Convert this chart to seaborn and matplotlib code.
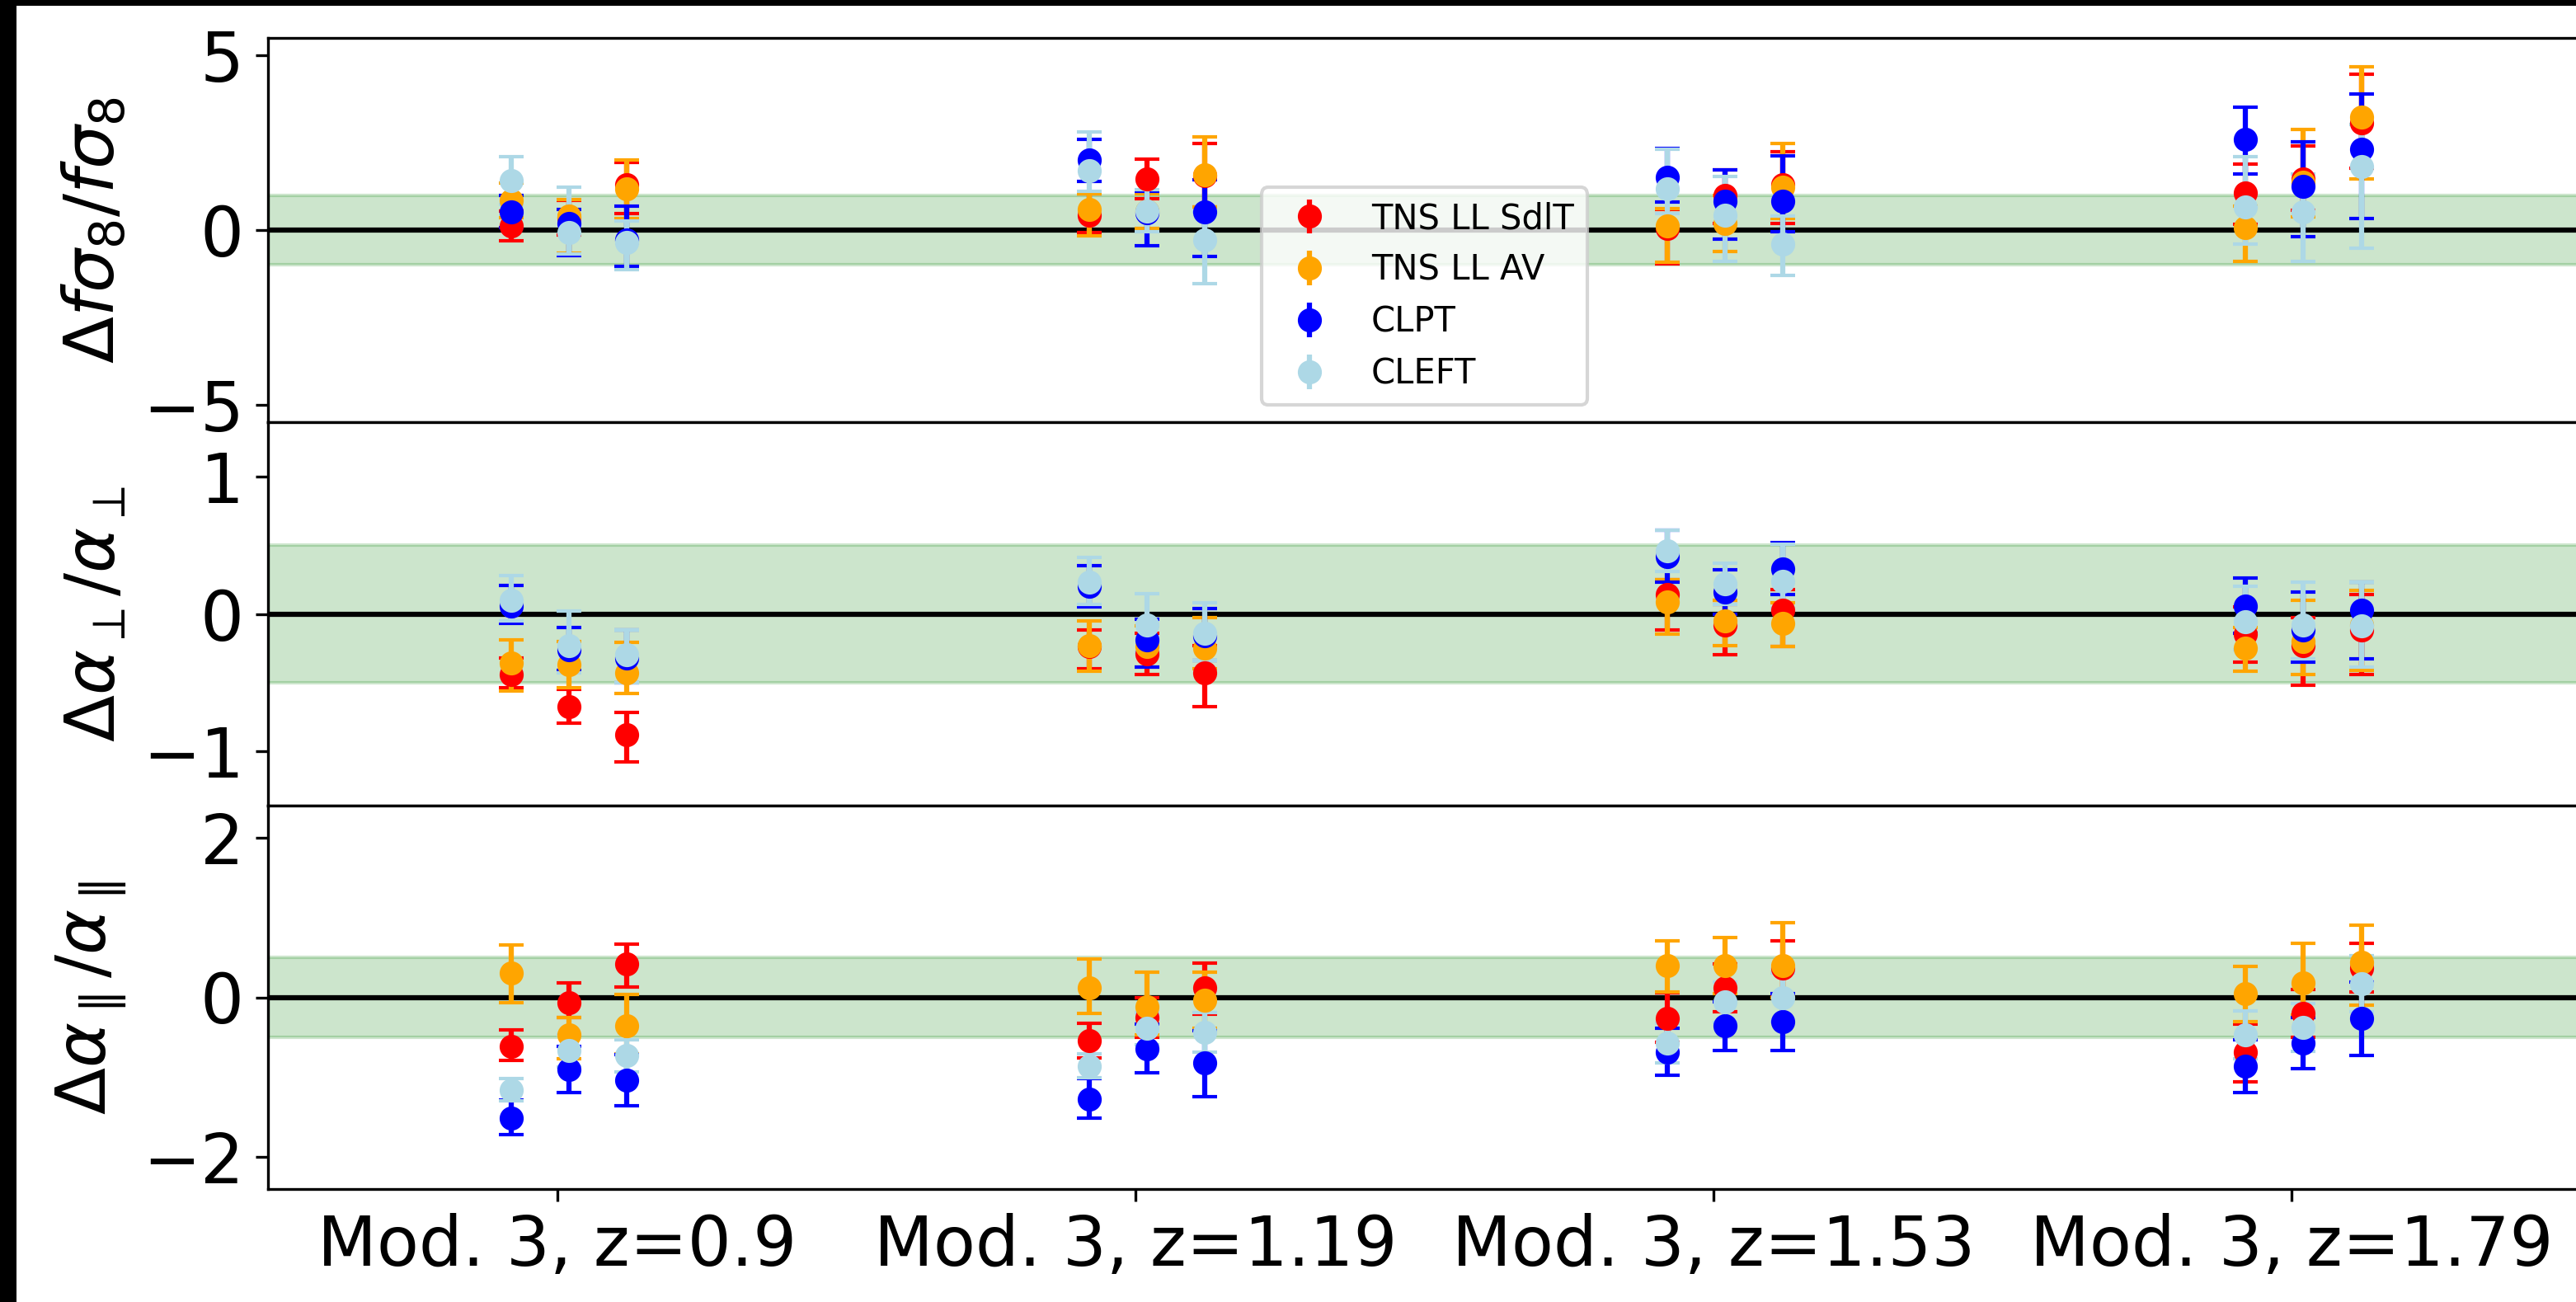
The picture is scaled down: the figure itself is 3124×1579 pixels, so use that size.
import numpy as np
import matplotlib
matplotlib.use("Agg")
import matplotlib.pyplot as plt
from matplotlib.patches import Rectangle
import seaborn as sns

# ---------------------------------------------------------------------------
# Categories and series
# ---------------------------------------------------------------------------
groups = ["Mod. 3, z=0.9", "Mod. 3, z=1.19", "Mod. 3, z=1.53", "Mod. 3, z=1.79"]
sub_offsets = [-0.08, 0.02, 0.12]          # three fits per redshift bin
models = ["TNS LL SdlT", "TNS LL AV", "CLPT", "CLEFT"]
colors = ["red", "orange", "blue", "lightblue"]

# ---------------------------------------------------------------------------
# Delta f sigma_8 / f sigma_8  (value, lower error, upper error)
# ---------------------------------------------------------------------------
fs8_sdlt    = [0.12, 0.35, 1.30,  0.43, 1.47, 1.55,  0.04, 0.98, 1.30,  1.06, 1.46, 3.07]
fs8_sdlt_lo = [0.43, 0.50, 0.83,  0.50, 0.57, 0.90,  1.00, 0.80, 1.12,  0.90, 0.90, 1.30]
fs8_sdlt_hi = [0.43, 0.50, 0.63,  0.60, 0.57, 0.92,  0.55, 0.75, 0.94,  0.83, 0.94, 1.38]

fs8_av      = [0.85, 0.40, 1.18,  0.60, 0.55, 1.57,  0.12, 0.20, 1.22,  0.08, 1.38, 3.23]
fs8_av_lo   = [0.50, 1.05, 0.84,  0.76, 0.50, 0.90,  1.05, 0.81, 0.90,  0.98, 1.00, 1.76]
fs8_av_hi   = [0.50, 0.47, 0.83,  0.44, 0.50, 1.10,  0.50, 0.80, 1.26,  0.60, 1.50, 1.44]

fs8_clpt    = [0.53, 0.20, -0.28, 2.00, 0.50, 0.53,  1.50, 0.83, 0.83,  2.60, 1.26, 2.32]
fs8_clpt_lo = [0.45, 0.94, 0.75,  0.60, 0.96, 1.28,  0.69, 1.08, 0.87,  1.00, 1.44, 2.00]
fs8_clpt_hi = [0.45, 0.40, 0.96,  0.59, 0.60, 0.90,  0.83, 0.90, 1.30,  0.92, 1.26, 1.57]

fs8_cleft    = [1.42, -0.08, -0.35, 1.70, 0.55, -0.28, 1.18, 0.43, -0.39, 0.67, 0.51, 1.81]
fs8_cleft_lo = [0.69, 0.60, 0.79,   0.60, 0.60, 1.26,  0.70, 1.32, 0.92,  1.06, 1.40, 2.32]
fs8_cleft_hi = [0.69, 1.30, 0.60,   1.10, 0.60, 0.80,  1.14, 1.10, 0.80,  1.43, 1.10, 1.20]

# ---------------------------------------------------------------------------
# Delta alpha_perp / alpha_perp
# ---------------------------------------------------------------------------
ape_sdlt    = [-0.44, -0.68, -0.88, -0.24, -0.29, -0.43, 0.14, -0.08, 0.03, -0.15, -0.23, -0.12]
ape_sdlt_lo = [0.10, 0.12, 0.20,  0.16, 0.15, 0.25,  0.26, 0.22, 0.27,  0.20, 0.29, 0.32]
ape_sdlt_hi = [0.12, 0.13, 0.16,  0.12, 0.15, 0.20,  0.11, 0.15, 0.15,  0.20, 0.20, 0.26]

ape_av      = [-0.36, -0.37, -0.43, -0.23, -0.24, -0.25, 0.09, -0.05, -0.07, -0.25, -0.20, -0.08]
ape_av_lo   = [0.20, 0.17, 0.15,  0.19, 0.15, 0.15,  0.24, 0.18, 0.17,  0.17, 0.24, 0.33]
ape_av_hi   = [0.17, 0.17, 0.22,  0.18, 0.15, 0.22,  0.16, 0.15, 0.15,  0.15, 0.30, 0.25]

ape_clpt    = [0.06, -0.26, -0.32, 0.20, -0.19, -0.16, 0.42, 0.16, 0.33, 0.06, -0.12, 0.03]
ape_clpt_lo = [0.13, 0.15, 0.18,  0.15, 0.20, 0.18,  0.19, 0.16, 0.19,  0.20, 0.23, 0.36]
ape_clpt_hi = [0.15, 0.16, 0.20,  0.15, 0.15, 0.20,  0.19, 0.16, 0.19,  0.20, 0.28, 0.20]

ape_cleft    = [0.10, -0.23, -0.30, 0.23, -0.08, -0.14, 0.46, 0.22, 0.24, -0.06, -0.08, -0.09]
ape_cleft_lo = [0.15, 0.20, 0.20,  0.16, 0.20, 0.20,  0.15, 0.15, 0.20,  0.20, 0.25, 0.30]
ape_cleft_hi = [0.18, 0.25, 0.18,  0.18, 0.23, 0.22,  0.15, 0.15, 0.27,  0.26, 0.31, 0.32]

# ---------------------------------------------------------------------------
# Delta alpha_par / alpha_par
# ---------------------------------------------------------------------------
apa_sdlt    = [-0.61, -0.07, 0.42, -0.54, -0.25, 0.12, -0.26, 0.12, 0.37, -0.69, -0.20, 0.37]
apa_sdlt_lo = [0.18, 0.18, 0.29,  0.22, 0.25, 0.33,  0.30, 0.30, 0.35,  0.37, 0.30, 0.30]
apa_sdlt_hi = [0.20, 0.25, 0.25,  0.22, 0.25, 0.31,  0.32, 0.30, 0.34,  0.35, 0.30, 0.31]

apa_av      = [0.30, -0.47, -0.36, 0.12, -0.12, -0.04, 0.40, 0.40, 0.40, 0.05, 0.18, 0.44]
apa_av_lo   = [0.37, 0.30, 0.35,  0.32, 0.35, 0.35,  0.33, 0.35, 0.40,  0.35, 0.40, 0.54]
apa_av_hi   = [0.36, 0.22, 0.40,  0.36, 0.43, 0.35,  0.31, 0.35, 0.53,  0.34, 0.50, 0.46]

apa_clpt    = [-1.51, -0.90, -1.04, -1.27, -0.64, -0.82, -0.69, -0.36, -0.30, -0.86, -0.57, -0.26]
apa_clpt_lo = [0.21, 0.29, 0.32,  0.24, 0.30, 0.42,  0.29, 0.31, 0.37,  0.33, 0.32, 0.47]
apa_clpt_hi = [0.22, 0.29, 0.32,  0.25, 0.30, 0.40,  0.30, 0.30, 0.35,  0.33, 0.32, 0.45]

apa_cleft    = [-1.16, -0.67, -0.73, -0.86, -0.39, -0.44, -0.57, -0.06, 0.00, -0.47, -0.38, 0.17]
apa_cleft_lo = [0.14, 0.20, 0.20,  0.15, 0.20, 0.25,  0.25, 0.25, 0.30,  0.30, 0.30, 0.35]
apa_cleft_hi = [0.14, 0.20, 0.20,  0.15, 0.20, 0.25,  0.25, 0.25, 0.30,  0.30, 0.30, 0.35]

panels = [
    dict(label=r"$\Delta f\sigma_8/f\sigma_8$", ylim=(-5.5, 5.5), ticks=[-5, 0, 5], band=1.0,
         series=[(fs8_sdlt, fs8_sdlt_lo, fs8_sdlt_hi), (fs8_av, fs8_av_lo, fs8_av_hi),
                 (fs8_clpt, fs8_clpt_lo, fs8_clpt_hi), (fs8_cleft, fs8_cleft_lo, fs8_cleft_hi)]),
    dict(label=r"$\Delta\alpha_\perp/\alpha_\perp$", ylim=(-1.4, 1.4), ticks=[-1, 0, 1], band=0.5,
         series=[(ape_sdlt, ape_sdlt_lo, ape_sdlt_hi), (ape_av, ape_av_lo, ape_av_hi),
                 (ape_clpt, ape_clpt_lo, ape_clpt_hi), (ape_cleft, ape_cleft_lo, ape_cleft_hi)]),
    dict(label=r"$\Delta\alpha_\parallel/\alpha_\parallel$", ylim=(-2.4, 2.4), ticks=[-2, 0, 2], band=0.5,
         series=[(apa_sdlt, apa_sdlt_lo, apa_sdlt_hi), (apa_av, apa_av_lo, apa_av_hi),
                 (apa_clpt, apa_clpt_lo, apa_clpt_hi), (apa_cleft, apa_cleft_lo, apa_cleft_hi)]),
]

xpos = np.array([g + o for g in range(len(groups)) for o in sub_offsets])

W, H, DPI = 3124, 1579, 300
fig = plt.figure(figsize=(W / DPI, H / DPI), dpi=DPI, facecolor="black")
fig.patches.append(Rectangle((20 / W, 0), 1, 1 - 7 / H, transform=fig.transFigure,
                             facecolor="white", edgecolor="none", zorder=-1))

left, width = 325 / W, 2805 / W
edges = [46, 512, 977, 1442]
axes = []
for i in range(3):
    top = 1 - edges[i] / H
    bot = 1 - edges[i + 1] / H
    axes.append(fig.add_axes([left, bot, width, top - bot]))

CAP = 3.5
for ax, p in zip(axes, panels):
    ax.axhspan(-p["band"], p["band"], color="green", alpha=0.2)
    ax.axhline(0, color="black", lw=1.5)
    # error bars first, then the markers on top (as errorbar layers them)
    for (vals, lo, hi), c in zip(p["series"], colors):
        ax.errorbar(xpos, vals, yerr=[lo, hi], fmt="none", ecolor=c,
                    elinewidth=1.5, capsize=CAP, zorder=2)
    for (vals, lo, hi), c in zip(p["series"], colors):
        sns.scatterplot(x=xpos, y=vals, color=c, s=36, edgecolor=c, linewidth=1,
                        zorder=2.1, ax=ax, legend=False)
    ax.set_xlim(-0.5, len(groups) - 0.5)
    ax.set_ylim(*p["ylim"])
    ax.set_yticks(p["ticks"])
    ax.set_ylabel(p["label"], fontsize=20)
    ax.tick_params(axis="y", labelsize=20)
    ax.set_xticks(range(len(groups)))

for ax in axes[:2]:
    ax.tick_params(axis="x", bottom=False, labelbottom=False)
axes[2].set_xticklabels(groups, fontsize=20)

# legend handles in errorbar style
handles = []
for m, c in zip(models, colors):
    h = axes[0].errorbar([], [], yerr=[], fmt="o", color=c, capsize=CAP, label=m)
    handles.append(h)
axes[0].legend(handles=handles, labels=models, loc="lower center", fontsize=10)

fig.savefig("out.png", dpi=DPI, facecolor=fig.get_facecolor())
